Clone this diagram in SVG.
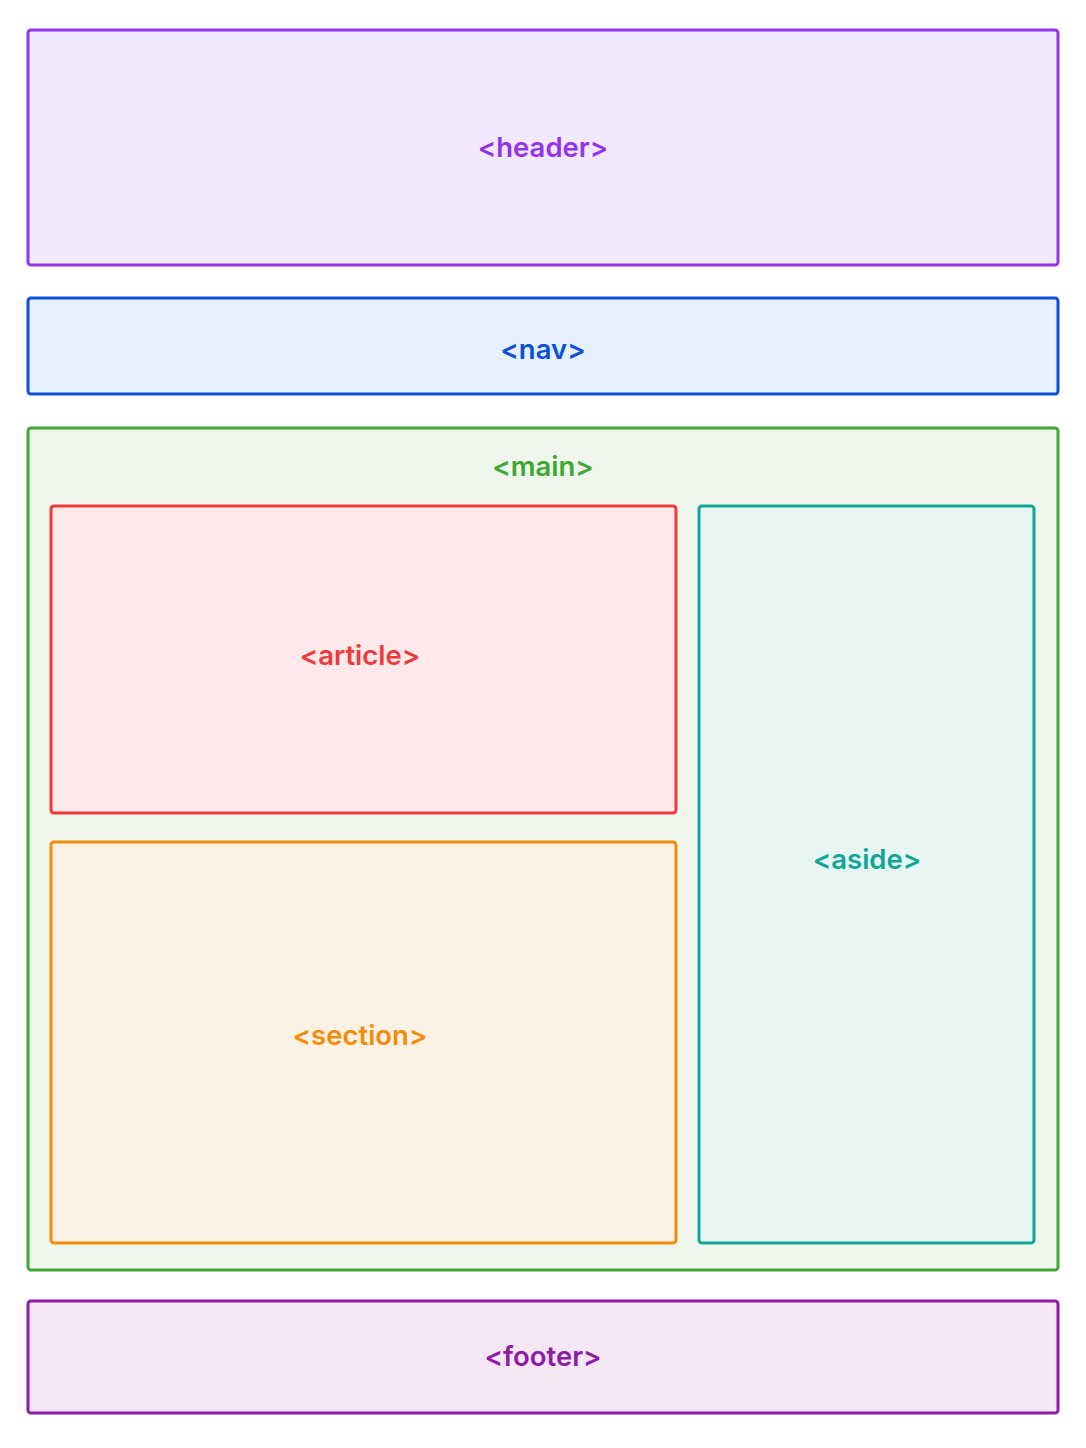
<svg xmlns="http://www.w3.org/2000/svg" width="1086" height="1448" viewBox="0 0 1086 1448">
<style>
.box{stroke-width:3}
.lbl{font-family:Inter,"Liberation Sans",sans-serif;font-weight:600;font-size:27.5px;text-anchor:middle}
</style>
<rect width="1086" height="1448" fill="#ffffff"/>
<g id="header">
<rect class="box" x="28" y="30" width="1030" height="235" rx="3" fill="#f3e9fd" stroke="#9333ea"/>
<text class="lbl" x="543" y="157" fill="#9333ea">&lt;header&gt;</text>
</g>
<g id="nav">
<rect class="box" x="28" y="298" width="1030" height="96" rx="3" fill="#e7f0fd" stroke="#0b50d9"/>
<text class="lbl" x="543" y="359" fill="#0b50d9">&lt;nav&gt;</text>
</g>
<g id="main">
<rect class="box" x="28" y="428" width="1030" height="842" rx="3" fill="#eff7ec" stroke="#3ea832"/>
<text class="lbl" x="543" y="476" fill="#3ea832">&lt;main&gt;</text>
</g>
<g id="article">
<rect class="box" x="51" y="506" width="625" height="307" rx="3" fill="#fde9ea" stroke="#ee3a3a"/>
<text class="lbl" x="360" y="665" fill="#ee3a3a">&lt;article&gt;</text>
</g>
<g id="section">
<rect class="box" x="51" y="842" width="625" height="401" rx="3" fill="#fdf1e4" stroke="#f28c0a"/>
<text class="lbl" x="360" y="1045" fill="#f28c0a">&lt;section&gt;</text>
</g>
<g id="aside">
<rect class="box" x="699" y="506" width="335" height="737" rx="3" fill="#e8f6f3" stroke="#0fa597"/>
<text class="lbl" x="867" y="869" fill="#0fa597">&lt;aside&gt;</text>
</g>
<g id="footer">
<rect class="box" x="28" y="1301" width="1030" height="112" rx="3" fill="#f5e7f6" stroke="#8e1aa6"/>
<text class="lbl" x="543" y="1366" fill="#8e1aa6">&lt;footer&gt;</text>
</g>
<g id="connectors"/>
</svg>
